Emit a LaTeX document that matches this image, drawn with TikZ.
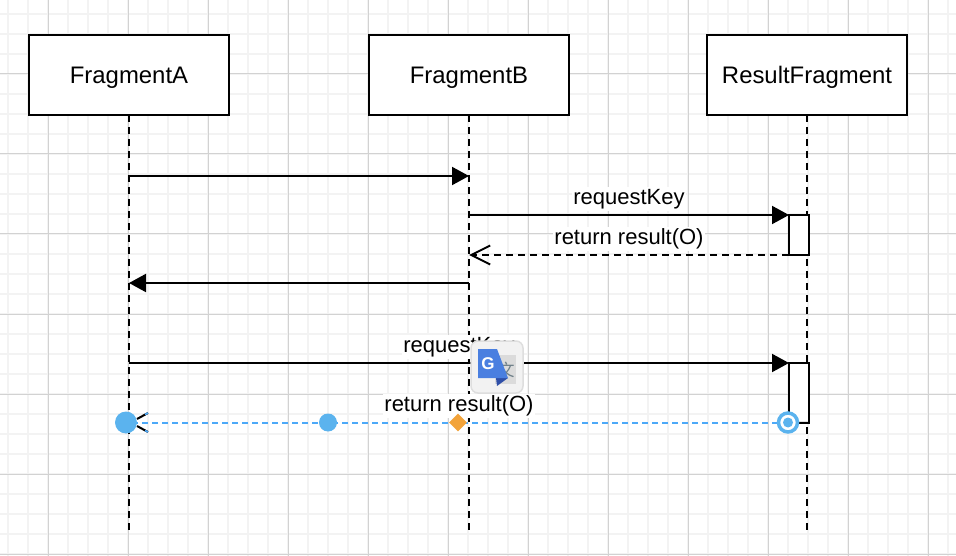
\documentclass[tikz,border=0pt]{standalone}
\usepackage{fontspec}
\setmainfont{Liberation Sans}
\newfontfamily\cjkfont{Noto Sans CJK SC}
\usepackage{tikz}
\usetikzlibrary{arrows.meta,positioning,shapes.geometric}
\definecolor{gridmajor}{HTML}{D2D2D2}
\definecolor{gridminor}{HTML}{F3F3F3}
\definecolor{handle}{HTML}{5BB3EE}
\definecolor{guide}{HTML}{4DA9F8}
\definecolor{warn}{HTML}{F2A33A}
\definecolor{gblue}{HTML}{4A7FE0}
\definecolor{gdark}{HTML}{2F4FA8}
\definecolor{gglyph}{HTML}{6E7F88}

\begin{document}
\begin{tikzpicture}[
  x=1pt, y=-1pt,
  actor/.style={draw=black, line width=2pt, fill=white, minimum width=200pt,
                minimum height=80pt, outer sep=0pt, text height=18pt, text depth=0pt,
                font=\fontsize{23.9}{28}\selectfont},
  lifeline/.style={line width=2pt, dash pattern=on 7pt off 5pt},
  msg/.style={-{Triangle[length=17pt,width=18pt]}, line width=2pt},
  ret/.style={-{Straight Barb[length=19pt,width=19pt,line width=2pt]}, line width=2pt, dash pattern=on 7pt off 5pt},
  lbl/.style={fill=white, inner xsep=1pt, inner ysep=2pt, font=\fontsize{22}{26}\selectfont},
  bar/.style={draw=black, line width=2pt, fill=white, minimum width=20pt, outer sep=0pt, inner sep=0pt},
  dot/.style={circle, fill=handle, inner sep=0pt}
]
  \useasboundingbox (0,0) rectangle (956,556);
  \fill[white] (0,0) rectangle (956,556);
  % grid
  \foreach \x in {8,28,...,948} \draw[gridminor, line width=2pt] (\x,0) -- (\x,556);
  \foreach \y in {14,34,...,554} \draw[gridminor, line width=2pt] (0,\y) -- (956,\y);
  \foreach \x in {48,128,...,928} \draw[gridmajor, line width=1pt] (\x,0) -- (\x,556);
  \foreach \y in {74,154,...,554} \draw[gridmajor, line width=1pt] (0,\y) -- (956,\y);

  \node[actor] (a) at (129,75) {FragmentA};
  \node[actor, right=140pt of a] (b) {FragmentB};
  \node[actor, right=138pt of b] (c) {ResultFragment};

  \coordinate (aend) at (a.south |- 0,530);
  \coordinate (bend) at (b.south |- 0,530);
  \coordinate (cend) at (c.south |- 0,530);
  \draw[lifeline] (a.south) -- (aend);
  \draw[lifeline] (b.south) -- (bend);
  \draw[lifeline] (c.south) -- (cend);

  \node[bar, minimum height=40pt] (act1) at (799,235) {};
  \node[bar, minimum height=60pt] (act2) at (799,393) {};

  \coordinate (a1) at (a.south |- 0,176);
  \coordinate (b1) at (b.south |- 0,176);
  \coordinate (b2) at (b.south |- 0,215);
  \coordinate (b3) at (b.south |- 0,255);
  \coordinate (b4) at (b.south |- 0,283);
  \coordinate (a4) at (a.south |- 0,283);
  \coordinate (a5) at (a.south |- 0,363);
  \draw[msg] (a1) -- (b1);
  \draw[msg] (b2) -- node[lbl, midway, yshift=16pt] {requestKey} (act1.north west);
  \draw[ret] (act1.south west) -- node[lbl, midway, yshift=16pt] {return result(O)} (b3);
  \draw[msg] (b4) -- (a4);
  \draw[msg] (a5) -- node[lbl, midway, yshift=16pt] {requestKey} (act2.north west);

  % selected return message
  \node[lbl] (l4) at (459,406) {return result(O)};
  \coordinate (p1) at (126,422.5);
  \coordinate (p2) at (328,422.5);
  \coordinate (p3) at (458,422.5);
  \coordinate (p4) at (788,422.5);
  \draw[black, line width=2pt] (148,413) -- (137,419);
  \draw[black, line width=2pt] (148,432) -- (137,426);
  \draw[guide, line width=1.6pt] (148,413) -- (145,414.5);
  \draw[guide, line width=1.6pt] (148,432) -- (145,430.5);
  \draw[guide, line width=2pt, dash pattern=on 6pt off 4pt] (p4) -- (p1);
  \draw[black, line width=2pt] (p4) -- (act2.south east);
  \node[dot, minimum size=22pt] (h1) at (p1) {};
  \node[dot, minimum size=18pt] (h2) at (p2) {};
  \node[diamond, fill=warn, minimum size=18pt, inner sep=0pt] (h3) at (p3) {};
  \node[circle, draw=handle, line width=3.5pt, fill=white, minimum size=19pt, inner sep=0pt] (h4) at (p4) {};
  \node[dot, minimum size=10pt] (h5) at (p4) {};

  % translate popup
  \node[draw=black!13, line width=1.5pt, fill=black!5, rounded corners=7pt,
        minimum size=52pt, inner sep=0pt] (popup) at (497,367) {};
  \fill[black!14] (495,355) rectangle (516,384);
  \node[text=gglyph, font=\cjkfont\fontsize{17}{17}\selectfont, inner sep=0pt] (wen) at (506,370) {文};
  \fill[gdark] (496,378) -- (508,378) -- (497,386) -- cycle;
  \fill[gblue] (478,349) -- (497,349) -- (508,378) -- (478,378) -- cycle;
  \node[text=white, font=\bfseries\fontsize{17}{17}\selectfont, inner sep=0pt] (g) at (488,364) {G};
\end{tikzpicture}
\end{document}
